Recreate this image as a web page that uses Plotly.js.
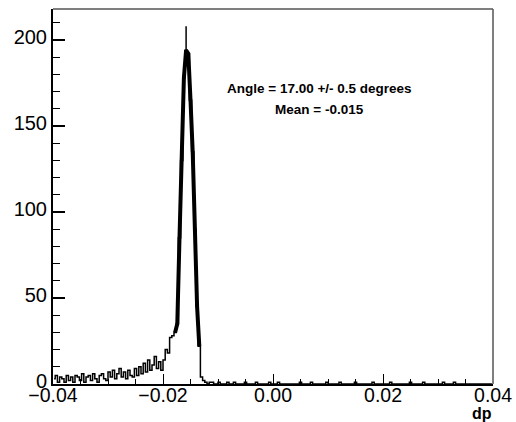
<!DOCTYPE html>
<html>
<head>
<meta charset="utf-8">
<script src="https://cdn.plot.ly/plotly-3.0.1.min.js"></script>
<style>html,body{margin:0;padding:0;background:#fff;}#chart{width:516px;height:422px;}</style>
</head>
<body>
<div id="chart"></div>
<script>
// Histogram of dp: 200 bins of width 0.0004 from -0.04 to 0.04
const binStart = -0.04;
const binWidth = 0.0004;
const counts = [
  // -0.040 .. -0.030
  3,5,1,4,3,1,5,2,4,1,5,4,2,6,1,4,5,2,6,3,1,5,6,3,2,
  // -0.030 .. -0.0248
  7,4,8,3,6,9,4,7,3,8,5,4,9,
  // -0.0248 .. -0.020
  5,10,6,12,7,14,8,11,16,9,13,8,
  // -0.020 .. -0.018
  14,20,18,27,28,
  // peak -0.018 .. -0.0124
  30,35,85,130,178,194,192,165,135,90,45,22,4,2,
  // -0.0124 .. 0.000
  1,0,1,1,0,0,1,0,0,0,1,0,0,1,0,0,0,0,1,0,0,0,0,1,0,0,0,0,0,1,0,
  // 0.000 .. 0.040
  0,0,1,0,0,0,0,0,0,0, 0,0,1,0,0,0,0,1,0,0, 0,0,0,0,1,0,0,0,0,0,
  1,0,0,0,0,0,0,1,0,0, 0,0,0,0,0,1,0,0,0,0, 0,0,0,1,0,0,0,0,0,0,
  0,0,1,0,0,0,0,0,1,0, 0,0,0,0,0,0,0,1,0,0, 0,0,1,0,0,0,0,0,0,0,
  0,0,0,0,0,0,0,0,0,0
];
const peakFirst = 55, peakLast = 66;
const xTickVals = [-0.04, -0.02, 0.0, 0.02, 0.04];
const xTickText = ["\u22120.04", "\u22120.02", "0.00", "0.02", "0.04"];
const yTickVals = [0, 50, 100, 150, 200];
const yTickText = ["0", "50", "100", "150", "200"];
const infoLines = ["Angle = 17.00 +/- 0.5 degrees", "Mean = -0.015"];
const xTitle = "dp";

const centers = counts.map((_, i) => binStart + binWidth * (i + 0.5));
const peakX = centers.slice(peakFirst, peakLast + 1);
const peakY = counts.slice(peakFirst, peakLast + 1);
let imax = 0;
counts.forEach((c, i) => { if (c > counts[imax]) imax = i; });

const font = "Liberation Sans, Arial, Helvetica, sans-serif";

const traces = [
  {x: centers, y: counts, type: 'scatter', mode: 'lines',
   line: {color: '#000', width: 1.5, shape: 'hvh'}, hoverinfo: 'skip'},
  {x: peakX, y: peakY, type: 'scatter', mode: 'lines',
   line: {color: '#000', width: 4}, hoverinfo: 'skip'},
  {x: [centers[imax]], y: [counts[imax]], type: 'scatter', mode: 'markers',
   marker: {size: 0.1, color: '#000'},
   error_y: {type: 'data', array: [Math.sqrt(counts[imax])], arrayminus: [0], width: 0, thickness: 1.5, color: '#000'},
   hoverinfo: 'skip'}
];

const layout = {
  width: 516, height: 422,
  margin: {l: 53, r: 23, t: 9, b: 38},
  paper_bgcolor: '#fff', plot_bgcolor: '#fff',
  showlegend: false,
  font: {family: font, color: '#000'},
  xaxis: {
    range: [-0.04, 0.04], showgrid: false, zeroline: false,
    showline: true, linecolor: '#000', linewidth: 2,
    ticks: 'inside', ticklen: 10, tickwidth: 1, tickcolor: '#000',
    tickvals: xTickVals, ticktext: xTickText,
    ticklabelstandoff: -7,
    tickfont: {size: 19.5, family: font, color: '#000'},
    minor: {dtick: 0.005, ticks: 'inside', ticklen: 5, tickwidth: 1, tickcolor: '#000', showgrid: false}
  },
  yaxis: {
    range: [0, 218], showgrid: false, zeroline: false,
    showline: true, linecolor: '#000', linewidth: 2,
    ticks: 'inside', ticklen: 12, tickwidth: 1.5, tickcolor: '#000',
    tickvals: yTickVals, ticktext: yTickText,
    ticklabelshift: -3,
    tickfont: {size: 20, family: font, color: '#000'},
    minor: {dtick: 10, ticks: 'inside', ticklen: 7, tickwidth: 1, tickcolor: '#000', showgrid: false}
  },
  shapes: [
    {type: 'line', xref: 'paper', yref: 'paper', x0: 0, x1: 1, y0: 1, y1: 1, line: {color: '#555', width: 1.5}},
    {type: 'line', xref: 'paper', yref: 'paper', x0: 1, x1: 1, y0: 0, y1: 1, line: {color: '#555', width: 1.5}}
  ],
  annotations: [
    {text: '<b>' + infoLines[0] + '</b>', xref: 'paper', yref: 'paper', x: 0.605, y: 0.787,
     xanchor: 'center', yanchor: 'middle', showarrow: false, font: {size: 13.5, family: font, color: '#000'}},
    {text: '<b>' + infoLines[1] + '</b>', xref: 'paper', yref: 'paper', x: 0.605, y: 0.731,
     xanchor: 'center', yanchor: 'middle', showarrow: false, font: {size: 13.5, family: font, color: '#000'}},
    {text: '<b>' + xTitle + '</b>', xref: 'paper', yref: 'paper', x: 1.003, y: 0, yshift: -19,
     xanchor: 'right', yanchor: 'top', showarrow: false, font: {size: 16, family: font, color: '#000'}}
  ]
};

Plotly.newPlot('chart', traces, layout, {staticPlot: true, displayModeBar: false});
</script>
</body>
</html>
